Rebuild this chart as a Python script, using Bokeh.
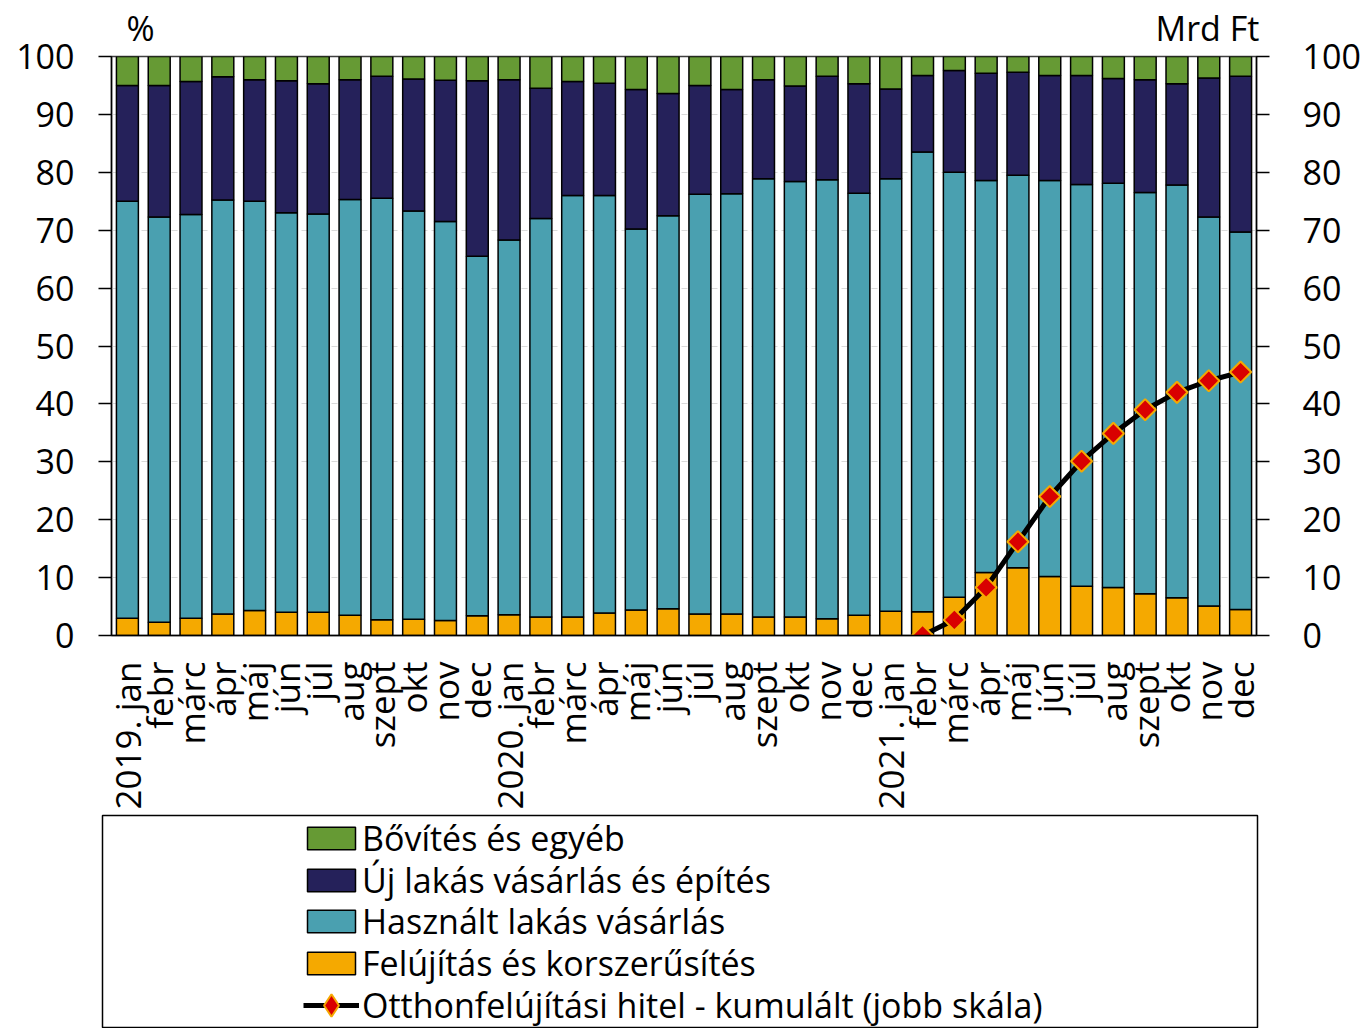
import numpy as np
from math import pi
from bokeh.plotting import figure
from bokeh.models import (ColumnDataSource, Range1d, LinearAxis, FixedTicker,
                          Legend, LegendItem)
from bokeh.layouts import column, row
from bokeh.embed import file_html
from bokeh.resources import INLINE

# ---------------- data ----------------
months = ["2019. jan", "febr", "márc", "ápr", "máj", "jún", "júl", "aug", "szept", "okt", "nov", "dec",
          "2020. jan", "febr", "márc", "ápr", "máj", "jún", "júl", "aug", "szept", "okt", "nov", "dec",
          "2021. jan", "febr", "márc", "ápr", "máj", "jún", "júl", "aug", "szept", "okt", "nov", "dec"]

felujitas = [3.0, 2.3, 3.0, 3.7, 4.3, 4.0, 4.0, 3.5, 2.7, 2.8, 2.6, 3.4,
             3.6, 3.2, 3.2, 3.9, 4.4, 4.6, 3.7, 3.7, 3.2, 3.2, 2.9, 3.5,
             4.2, 4.1, 6.6, 10.9, 11.7, 10.2, 8.5, 8.3, 7.2, 6.5, 5.1, 4.5]
hasznalt = [72.0, 70.0, 69.7, 71.5, 70.7, 69.0, 68.8, 71.8, 72.8, 70.5, 68.9, 62.1,
            64.7, 68.8, 72.8, 72.1, 65.8, 67.9, 72.5, 72.6, 75.7, 75.2, 75.8, 72.9,
            74.7, 79.4, 73.4, 67.7, 67.8, 68.4, 69.4, 69.8, 69.3, 71.3, 67.2, 65.2]
uj = [20.0, 22.7, 23.0, 21.3, 21.0, 22.8, 22.5, 20.7, 21.1, 22.8, 24.4, 30.3,
      27.7, 22.5, 19.7, 19.4, 24.1, 21.1, 18.8, 18.0, 17.1, 16.5, 17.9, 18.9,
      15.5, 13.2, 17.6, 18.5, 17.8, 18.1, 18.8, 18.1, 19.5, 17.5, 24.0, 26.9]
bovites = [5.0, 5.0, 4.3, 3.5, 4.0, 4.2, 4.7, 4.0, 3.4, 3.9, 4.1, 4.2,
           4.0, 5.5, 4.3, 4.6, 5.7, 6.4, 5.0, 5.7, 4.0, 5.1, 3.4, 4.7,
           5.6, 3.3, 2.4, 2.9, 2.7, 3.3, 3.3, 3.8, 4.0, 4.7, 3.7, 3.4]

# Otthonfelújítási hitel - kumulált (Mrd Ft), 2021 febr .. dec
hitel = [0.0, 2.7, 8.3, 16.2, 24.0, 30.1, 34.9, 39.0, 42.0, 44.0, 45.5]
hitel_first_month = 25  # index of 2021 febr in months

y_ticks = list(range(0, 101, 10))

series_names = ["Felújítás és korszerűsítés", "Használt lakás vásárlás",
                "Új lakás vásárlás és építés", "Bővítés és egyéb"]
line_name = "Otthonfelújítási hitel - kumulált (jobb skála)"
left_unit = "%"
right_unit = "Mrd Ft"

# ---------------- style ----------------
FONT = "Open Sans"
C_FEL = "#F5A900"
C_HAS = "#4AA0B0"
C_UJ = "#25215A"
C_BOV = "#669A34"
C_RED = "#D90000"
W = 1365
FRAME_W = 1145

# ---------------- main chart ----------------
xpos = list(range(1, len(months) + 1))
src = ColumnDataSource(dict(x=xpos, felujitas=felujitas, hasznalt=hasznalt, uj=uj, bovites=bovites))

p = figure(width=W, height=814, output_backend="svg", toolbar_location=None,
           x_range=Range1d(0.5, len(months) + 0.5), y_range=Range1d(0, 100),
           min_border_left=111, min_border_right=W - 111 - FRAME_W,
           min_border_top=56, min_border_bottom=179)
p.extra_y_ranges = {"right": Range1d(0, 100)}
p.extra_x_ranges = {"px": Range1d(0, FRAME_W)}

p.vbar_stack(["felujitas", "hasznalt", "uj", "bovites"], x="x", width=0.69, source=src,
             fill_color=[C_FEL, C_HAS, C_UJ, C_BOV], line_color="black", line_width=1.5)

xl = xpos[hitel_first_month:hitel_first_month + len(hitel)]
p.line(x=xl, y=hitel, y_range_name="right", line_color="black", line_width=5)
p.scatter(x=xl, y=hitel, y_range_name="right", marker="square", angle=pi / 4, size=15,
          fill_color=C_RED, line_color=C_FEL, line_width=2)

p.xaxis.ticker = FixedTicker(ticks=xpos)
p.xaxis.major_label_overrides = {x: m for x, m in zip(xpos, months)}
p.xaxis.major_label_orientation = pi / 2
p.xaxis.major_tick_line_color = None
p.xaxis.minor_tick_line_color = None
p.xaxis.axis_line_color = "black"
p.xaxis.axis_line_width = 1.5
p.xaxis.major_label_text_font = FONT
p.xaxis.major_label_text_font_size = "35px"
p.xaxis.major_label_text_color = "black"
p.xaxis.major_label_standoff = 20

p.yaxis.ticker = FixedTicker(ticks=y_ticks)
ra = LinearAxis(y_range_name="right", ticker=FixedTicker(ticks=y_ticks))
p.add_layout(ra, "right")
for ax, so in ((p.yaxis[0], 24), (ra, 33)):
    ax.major_tick_out = 13
    ax.major_tick_in = 0
    ax.minor_tick_line_color = None
    ax.axis_line_color = "black"
    ax.axis_line_width = 1.5
    ax.major_tick_line_color = "black"
    ax.major_tick_line_width = 1.5
    ax.major_label_text_font = FONT
    ax.major_label_text_font_size = "34px"
    ax.major_label_text_color = "black"
    ax.major_label_standoff = so

# unit captions above the two value axes (pixel positions along the frame top)
unit_pos = {29: left_unit, 1096: right_unit}
ua = LinearAxis(x_range_name="px", ticker=FixedTicker(ticks=list(unit_pos)),
                major_label_overrides=unit_pos)
ua.axis_line_color = None
ua.major_tick_line_color = None
ua.minor_tick_line_color = None
ua.major_tick_out = 0
ua.major_tick_in = 0
ua.minor_tick_out = 0
ua.major_label_text_font = FONT
ua.major_label_text_font_size = "34px"
ua.major_label_text_color = "black"
ua.major_label_standoff = 6
p.add_layout(ua, "above")

p.xgrid.visible = False
p.ygrid.ticker = FixedTicker(ticks=y_ticks)
p.ygrid.grid_line_color = "#d9d9d9"
p.ygrid.grid_line_dash = "6 4"
p.ygrid.grid_line_width = 1
p.outline_line_color = "#404040"
p.outline_line_width = 1.5

# ---------------- legend panel ----------------
LF_H = 214
lf = figure(width=W, height=LF_H, output_backend="svg", toolbar_location=None,
            x_range=Range1d(0, 1), y_range=Range1d(0, 1),
            min_border_left=102, min_border_right=108, min_border_top=1, min_border_bottom=0,
            x_axis_location=None, y_axis_location=None)
lf.outline_line_color = "black"
lf.outline_line_width = 1.5
lf.grid.visible = False
frame_h = LF_H - 1

# invisible stand-ins (outside the panel's range) so the legend can draw its swatches
dummy = ColumnDataSource(dict(x=[-3, -2], y=[-3, -2]))
dummies = {}
for name, col in zip(series_names, [C_FEL, C_HAS, C_UJ, C_BOV]):
    dummies[name] = lf.vbar(x="x", top="y", width=0.5, source=dummy,
                            fill_color=col, line_color="black", line_width=1.5)
r_line = lf.line(x="x", y="y", source=dummy, line_color="black", line_width=5)
r_dia = lf.scatter(x="x", y="y", source=dummy, marker="diamond",
                   fill_color=C_RED, line_color=C_FEL, line_width=2)

common = dict(orientation="vertical", padding=0, margin=0, spacing=0,
              label_text_font=FONT, label_text_font_size="34px", label_text_color="black",
              border_line_alpha=0, background_fill_alpha=0, label_height=43)

ROW_TOP = 23.5    # centre of first legend row below panel top
ROW_PITCH = 41.5
ITEM_H = 45.2
entries = [(n, [dummies[n]]) for n in series_names[::-1]] + [(line_name, [r_line, r_dia])]
for i, (label, rends) in enumerate(entries):
    centre_from_bottom = frame_h - (ROW_TOP + i * ROW_PITCH)
    if i < 4:
        leg = Legend(items=[LegendItem(label=label, renderers=rends)],
                     location=(199, centre_from_bottom - ITEM_H / 2),
                     glyph_width=60, glyph_height=28, label_standoff=1, **common)
    else:
        leg = Legend(items=[LegendItem(label=label, renderers=rends)],
                     location=(201, centre_from_bottom - 28),
                     glyph_width=56, glyph_height=56, label_standoff=3, **common)
    lf.add_layout(leg)

layout = column(p, row(lf), spacing=0)
open("out.html", "w").write(file_html(layout, INLINE))
